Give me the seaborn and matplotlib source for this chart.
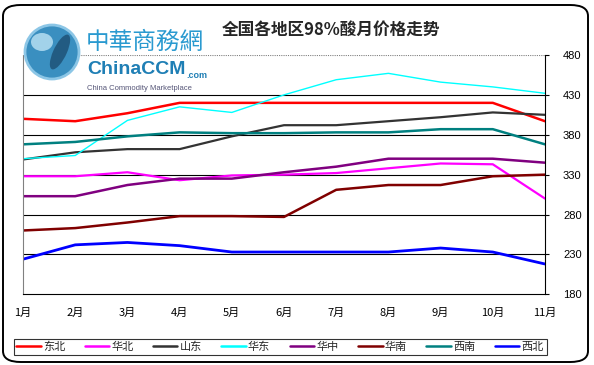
import numpy as np
import pandas as pd
import matplotlib
matplotlib.use("Agg")
import matplotlib.pyplot as plt
from matplotlib.patches import FancyBboxPatch, Ellipse
from matplotlib.lines import Line2D
import seaborn as sns

months = ["1月", "2月", "3月", "4月", "5月", "6月", "7月", "8月", "9月", "10月", "11月"]
regions = ["东北", "华北", "山东", "华东", "华中", "华南", "西南", "西北"]
dongbei = [400, 397, 407, 420, 420, 420, 420, 420, 420, 420, 397]
huabei = [328, 328, 333, 323, 329, 330, 332, 338, 344, 343, 300]
shandong = [349, 358, 362, 362, 378, 392, 392, 397, 402, 408, 405]
huadong = [350, 354, 398, 415, 408, 430, 449, 457, 446, 440, 432]
huazhong = [303, 303, 317, 325, 325, 333, 340, 350, 350, 350, 345]
huanan = [260, 263, 270, 278, 278, 277, 311, 317, 317, 328, 330]
xinan = [368, 371, 378, 383, 382, 382, 383, 383, 387, 387, 368]
xibei = [224, 242, 245, 241, 233, 233, 233, 233, 238, 233, 218]
yticks = [180, 230, 280, 330, 380, 430, 480]

series = [dongbei, huabei, shandong, huadong, huazhong, huanan, xinan, xibei]
colors = ["#FF0000", "#FF00FF", "#333333", "#00FFFF", "#800080", "#800000", "#008080", "#0000FF"]
widths = [1.8, 1.6, 1.6, 1.0, 1.8, 1.8, 1.8, 2.0]

rows = []
for name, vals in zip(regions, series):
    for i, v in enumerate(vals):
        rows.append({"region": name, "idx": i, "price": v})
df = pd.DataFrame(rows)

sns.set_style("white")
plt.rcParams['font.family'] = ['Noto Sans CJK SC', 'DejaVu Sans']

fig = plt.figure(figsize=(5.94, 3.65), dpi=100)
W, H = 594, 365
ax = fig.add_axes([23 / W, 1 - 294.3 / H, (545 - 23) / W, (294.3 - 55) / H])

sns.lineplot(data=df, x="idx", y="price", hue="region", hue_order=regions,
             palette=dict(zip(regions, colors)), ax=ax, legend=False, sort=False)
for line, lw in zip(ax.get_lines(), widths):
    line.set_linewidth(lw)

ax.set_xlim(0, len(months) - 1)
ax.set_ylim(180, 480)
ax.set_xticks(range(len(months)))
ax.set_xticklabels(months, fontsize=8)
ax.yaxis.tick_right()
ax.set_yticks(yticks)
ax.set_yticklabels([str(t) for t in yticks], fontsize=8, family=['Liberation Sans', 'DejaVu Sans'])
ax.tick_params(axis='y', direction='out', length=3, width=0.8, pad=10, colors='black')
ax.tick_params(axis='x', direction='in', length=3, width=0.8, pad=10, colors='black')
ax.set_xlabel("")
ax.set_ylabel("")
for t in yticks[1:-1]:
    ax.axhline(t, color='black', lw=0.8, zorder=0)
ax.axhline(480, color='#808080', lw=0.8, ls=(0, (1, 1)), zorder=0)
ax.spines['top'].set_visible(False)
ax.spines['left'].set_color('#808080')
ax.spines['left'].set_linestyle((0, (1, 1)))
ax.spines['left'].set_linewidth(0.8)
ax.spines['right'].set_color('black')
ax.spines['right'].set_linewidth(0.8)
ax.spines['bottom'].set_color('black')
ax.spines['bottom'].set_linewidth(0.8)

# title
fig.text(331 / W, 1 - 30 / H, "全国各地区98%酸月价格走势", ha='center', va='center',
         fontsize=12, fontweight='bold')

# figure border
border = FancyBboxPatch((3 / W, 3 / H), (588 - 3) / W, (360 - 3) / H,
                        boxstyle="round,pad=0,rounding_size=0.03",
                        transform=fig.transFigure, fill=False, ec='black', lw=1.4)
fig.patches.append(border)

# logo
globe = Ellipse((52 / W, 1 - 52 / H), 54 / W, 54 / H, transform=fig.transFigure,
                fc='#3a8fc0', ec='#8cc6e6', lw=2, zorder=5)
fig.patches.append(globe)
globe2 = Ellipse((42 / W, 1 - 42 / H), 22 / W, 18 / H, transform=fig.transFigure,
                 fc='#b5def2', ec='none', zorder=6, alpha=0.85)
fig.patches.append(globe2)
land = Ellipse((60 / W, 1 - 52 / H), 14 / W, 36 / H, angle=-15, transform=fig.transFigure,
               fc='#1d4f73', ec='none', zorder=6, alpha=0.8)
fig.patches.append(land)
fig.text(86 / W, 1 - 42 / H, "中華商務網", fontsize=17, color='#2a9ad0', va='center', ha='left', zorder=7)
ccm = fig.text(87 / W, 1 - 70 / H, "ChinaCCM", fontsize=14, fontweight='bold', color='#1f7fb5',
               va='center', ha='left', family=['Liberation Sans Narrow', 'Liberation Sans', 'DejaVu Sans'], zorder=7)
fig.canvas.draw()
bb = ccm.get_window_extent()
fig.text((bb.x1 + 1) / W, 1 - 75 / H, ".com", fontsize=6.5, fontweight='bold', color='#1f7fb5',
         va='center', ha='left', family=['Liberation Sans', 'DejaVu Sans'], zorder=7)
fig.text(87 / W, 1 - 88 / H, "China Commodity Marketplace", fontsize=5.5, color='#555577',
         va='center', ha='left', family=['Liberation Sans', 'DejaVu Sans'], zorder=7)

# legend
handles = [Line2D([], [], color=c, lw=1.8) for c in colors]
leg = fig.legend(handles, regions, loc='center', bbox_to_anchor=(280 / W, 1 - 347 / H),
                 ncol=8, frameon=True, fontsize=8, handlelength=2.2, handletextpad=0.2,
                 columnspacing=1.75, borderpad=0.25, fancybox=False)
leg.get_frame().set_edgecolor('black')
leg.get_frame().set_linewidth(0.8)

fig.savefig("out.png", dpi=100)
